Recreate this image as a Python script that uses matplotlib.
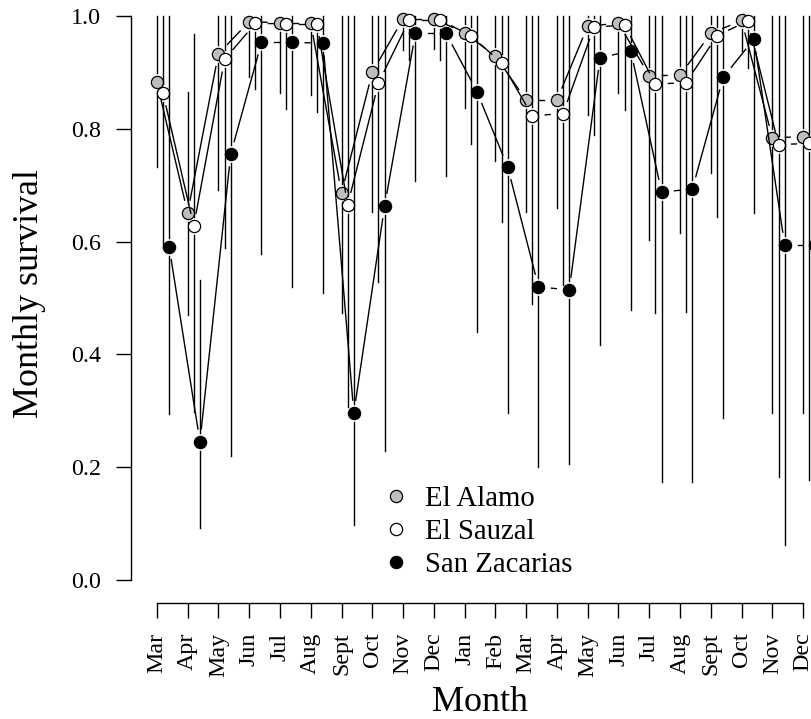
import numpy as np
import matplotlib.pyplot as plt
from matplotlib.lines import Line2D

plt.rcParams['font.family'] = ['Liberation Serif', 'DejaVu Serif']

# monthly survival estimates with 95% CI, three sites
months = ['Mar', 'Apr', 'May', 'Jun', 'Jul', 'Aug', 'Sept', 'Oct', 'Nov', 'Dec', 'Jan',
          'Feb', 'Mar', 'Apr', 'May', 'Jun', 'Jul', 'Aug', 'Sept', 'Oct', 'Nov', 'Dec']

alamo = [0.883, 0.651, 0.933, 0.990, 0.988, 0.988, 0.686, 0.900, 0.995, 0.995, 0.970,
         0.929, 0.851, 0.851, 0.982, 0.987, 0.894, 0.895, 0.969, 0.992, 0.784, 0.786]
alamo_lo = [0.733, 0.469, 0.691, 0.892, 0.863, 0.860, 0.473, 0.653, 0.940, 0.941, 0.837,
            0.742, 0.653, 0.659, 0.824, 0.863, 0.603, 0.615, 0.721, 0.937, 0.297, 0.297]
alamo_hi = [1.0, 0.866, 1.0, 1.0, 1.0, 1.0, 1.0, 1.0, 1.0, 1.0, 1.0,
            1.0, 1.0, 1.0, 1.0, 1.0, 1.0, 1.0, 1.0, 1.0, 1.0, 1.0]

sauzal = [0.863, 0.628, 0.923, 0.987, 0.986, 0.986, 0.665, 0.881, 0.993, 0.993, 0.965,
          0.917, 0.823, 0.827, 0.980, 0.984, 0.879, 0.882, 0.965, 0.991, 0.772, 0.774]
sauzal_lo = [0.588, 0.298, 0.588, 0.870, 0.835, 0.830, 0.307, 0.529, 0.922, 0.922, 0.773,
             0.635, 0.489, 0.523, 0.789, 0.833, 0.474, 0.476, 0.644, 0.907, 0.183, 0.177]
sauzal_hi = [1.0, 0.968, 1.0, 1.0, 1.0, 1.0, 1.0, 1.0, 1.0, 1.0, 1.0,
             1.0, 1.0, 1.0, 1.0, 1.0, 1.0, 1.0, 1.0, 1.0, 1.0, 1.0]

zacarias = [0.591, 0.245, 0.755, 0.953, 0.953, 0.952, 0.296, 0.663, 0.969, 0.969, 0.866,
            0.732, 0.520, 0.514, 0.926, 0.938, 0.688, 0.693, 0.891, 0.959, 0.594, 0.594]
zacarias_lo = [0.294, 0.093, 0.220, 0.578, 0.519, 0.508, 0.098, 0.229, 0.707, 0.717, 0.439,
               0.297, 0.201, 0.205, 0.417, 0.479, 0.173, 0.174, 0.287, 0.650, 0.062, 0.062]
zacarias_hi = [1.0, 0.532, 1.0, 1.0, 1.0, 1.0, 1.0, 1.0, 1.0, 1.0, 1.0,
               1.0, 1.0, 1.0, 1.0, 1.0, 1.0, 1.0, 1.0, 1.0, 1.0, 1.0]

W, H = 812, 719
fig = plt.figure(figsize=(W / 100, H / 100), dpi=100)
ax = fig.add_axes([131 / W, (H - 602.6) / H, 698 / W, 609.2 / H])
ax.set_xlim(1 - 0.84, 22 + 0.84)
ax.set_ylim(-0.04, 1.04)

# pixels per data unit, used to leave gaps around the points
pxx = 698 / 22.68
pxy = 609.2 / 1.08
line_gap = 13
bar_gap = 9


def draw_site(x, y, lo, hi, face, z):
    x = np.asarray(x, float)
    y = np.asarray(y, float)
    for i in range(len(x)):
        # CI bar, broken where the point sits
        g = bar_gap / pxy
        if y[i] - g > lo[i]:
            ax.plot([x[i], x[i]], [lo[i], y[i] - g], color='black', lw=1.0, zorder=z)
        if hi[i] > y[i] + g:
            ax.plot([x[i], x[i]], [y[i] + g, hi[i]], color='black', lw=1.0, zorder=z)
        # connecting segment to next month
        if i < len(x) - 1:
            dx = (x[i + 1] - x[i]) * pxx
            dy = (y[i + 1] - y[i]) * pxy
            d = np.hypot(dx, dy)
            if d > 2 * line_gap:
                f = line_gap / d
                xs = [x[i] + (x[i + 1] - x[i]) * f, x[i + 1] - (x[i + 1] - x[i]) * f]
                ys = [y[i] + (y[i + 1] - y[i]) * f, y[i + 1] - (y[i + 1] - y[i]) * f]
                ax.plot(xs, ys, color='black', lw=1.0, zorder=z)
    ax.plot(x, y, 'o', ls='none', ms=8.8, mfc=face, mec='black', mew=0.9, zorder=z + 0.5,
            clip_on=False)


m = np.arange(1, 23)
draw_site(m, alamo, alamo_lo, alamo_hi, '#bebebe', 2)
draw_site(m + 0.2, sauzal, sauzal_lo, sauzal_hi, 'white', 3)
draw_site(m + 0.4, zacarias, zacarias_lo, zacarias_hi, 'black', 4)

for s in ['top', 'right']:
    ax.spines[s].set_visible(False)
ax.spines['left'].set_bounds(0, 1)
ax.spines['bottom'].set_bounds(1, 22)
ax.spines['left'].set_linewidth(1.0)
ax.spines['bottom'].set_linewidth(1.0)

ax.set_yticks([0, 0.2, 0.4, 0.6, 0.8, 1.0])
ax.set_yticklabels(['0.0', '0.2', '0.4', '0.6', '0.8', '1.0'])
ax.set_xticks(m)
ax.set_xticklabels(months, rotation=90, va='top', ha='center')
ax.tick_params(length=10.8, width=1.0, labelsize=17.3, pad=10.8, color='black')

fig.text(480 / W, 1 - 711 / H, 'Month', ha='center', va='baseline', fontsize=25.9)
fig.text(30 / W, 1 - 294 / H, 'Monthly survival', rotation=90, ha='center', va='center',
         fontsize=25.9)

handles = [Line2D([], [], marker='o', ls='none', ms=8.8, mfc=c, mec='black', mew=0.9)
           for c in ['#bebebe', 'white', 'black']]
ax.legend(handles, ['El Alamo', 'El Sauzal', 'San Zacarias'], loc='upper left',
          bbox_to_anchor=(384.5 / W, 1 - 485.5 / H), bbox_transform=fig.transFigure,
          frameon=False, fontsize=20.7, handlelength=0.8, handletextpad=0.6,
          labelspacing=0.24, borderpad=0, borderaxespad=0)

plt.savefig('out.png', dpi=100)
